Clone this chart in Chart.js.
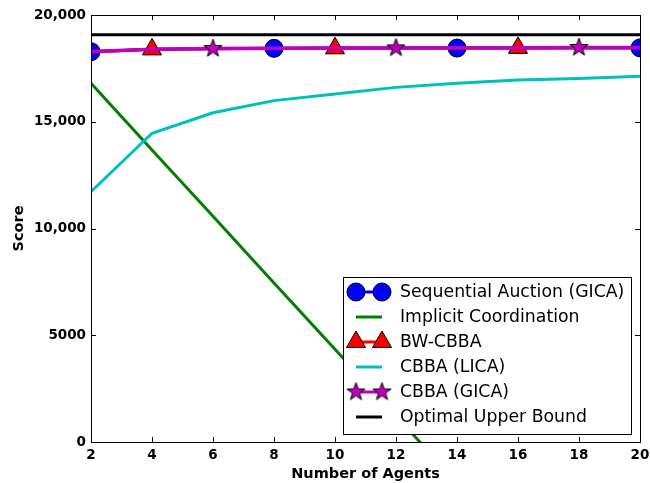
<!DOCTYPE html>
<html>
<head>
<meta charset="utf-8">
<script src="https://cdn.jsdelivr.net/npm/chart.js@4"></script>
<style>
  html, body { margin: 0; padding: 0; background: #fff; }
  #wrap { width: 650px; height: 483px; }
</style>
</head>
<body>
<div id="wrap"><canvas id="c" width="650" height="483"></canvas></div>
<script>
// x values: number of agents
const agents = [2, 4, 6, 8, 10, 12, 14, 16, 18, 20];

// series (score)
const seqAuction = [18280, 18390, 18420, 18440, 18450, 18450, 18450, 18460, 18460, 18460];
const implicitCoord = [16800, 13680, 10570, 7450, 4340, 1220, -1900, -5010, -8130, -11240];
const bwCbba = [18270, 18390, 18420, 18430, 18440, 18450, 18460, 18460, 18470, 18470];
const cbbaLica = [11720, 14460, 15420, 15990, 16300, 16610, 16800, 16960, 17030, 17130];
const cbbaGica = [18290, 18400, 18430, 18440, 18450, 18460, 18470, 18470, 18480, 18480];
const optimalBound = [19080, 19080, 19080, 19080, 19080, 19080, 19080, 19080, 19080, 19080];

const xTicks = [2, 4, 6, 8, 10, 12, 14, 16, 18, 20];
const yTicks = [0, 5000, 10000, 15000, 20000];
const yTickLabels = ['0', '5000', '10,000', '15,000', '20,000'];

const FONT = 'DejaVu Sans';

// filled five point star used as a marker (chart.js 'star' is only an asterisk)
function makeStar(r, fill) {
    const size = Math.ceil(r * 2 + 4);
    const cv = document.createElement('canvas');
    cv.width = size; cv.height = size;
    const g = cv.getContext('2d');
    const c = size / 2;
    g.beginPath();
    for (let i = 0; i < 10; i++) {
        const rad = i % 2 === 0 ? r : r * 0.4;
        const a = -Math.PI / 2 + i * Math.PI / 5;
        const px = c + rad * Math.cos(a), py = c + rad * Math.sin(a);
        if (i === 0) g.moveTo(px, py); else g.lineTo(px, py);
    }
    g.closePath();
    g.fillStyle = fill;
    g.fill();
    g.lineWidth = 1;
    g.strokeStyle = '#000';
    g.stroke();
    return cv;
}
const starImg = makeStar(9.5, '#bf00bf');

// markevery = 3 with an offset
function every3(offset, r) {
    return agents.map((_, i) => (i % 3 === offset ? r : 0));
}

const toXY = arr => arr.map((v, i) => ({ x: agents[i], y: v }));

const datasets = [
    { label: 'Sequential Auction (GICA)', data: toXY(seqAuction), borderColor: '#0000ff', backgroundColor: '#0000ff',
      borderWidth: 3, pointStyle: 'circle', pointRadius: every3(0, 9), order: 6, legendMarker: 'circle' },
    { label: 'Implicit Coordination', data: toXY(implicitCoord), borderColor: '#008000', backgroundColor: '#008000',
      borderWidth: 3, pointRadius: 0, order: 5 },
    { label: 'BW-CBBA', data: toXY(bwCbba), borderColor: '#ff0000', backgroundColor: '#ff0000',
      borderWidth: 3, pointStyle: 'triangle', pointRadius: every3(1, 11), order: 4, legendMarker: 'triangle' },
    { label: 'CBBA (LICA)', data: toXY(cbbaLica), borderColor: '#00bfbf', backgroundColor: '#00bfbf',
      borderWidth: 3, pointRadius: 0, order: 3 },
    { label: 'CBBA (GICA)', data: toXY(cbbaGica), borderColor: '#bf00bf', backgroundColor: '#bf00bf',
      borderWidth: 3.5, pointStyle: starImg, pointRadius: every3(2, 9), order: 2, legendMarker: 'star' },
    { label: 'Optimal Upper Bound', data: toXY(optimalBound), borderColor: '#000000', backgroundColor: '#000000',
      borderWidth: 3, pointRadius: 0, order: 1 }
];
datasets.forEach(d => {
    d.pointBorderColor = '#000';
    d.pointBorderWidth = 1;
    d.pointHoverRadius = d.pointRadius;
    d.tension = 0;
    d.fill = false;
});

// frame + inward ticks on all four sides, matplotlib style
const framePlugin = {
    id: 'frame',
    afterDatasetsDraw(chart) {
        const { ctx, chartArea: a, scales } = chart;
        ctx.save();
        ctx.strokeStyle = '#000';
        ctx.lineWidth = 1;
        ctx.beginPath();
        xTicks.forEach(t => {
            const px = Math.round(scales.x.getPixelForValue(t)) + 0.5;
            ctx.moveTo(px, a.bottom); ctx.lineTo(px, a.bottom - 5);
            ctx.moveTo(px, a.top); ctx.lineTo(px, a.top + 5);
        });
        yTicks.forEach(t => {
            const py = Math.round(scales.y.getPixelForValue(t)) + 0.5;
            ctx.moveTo(a.left, py); ctx.lineTo(a.left + 5, py);
            ctx.moveTo(a.right, py); ctx.lineTo(a.right - 5, py);
        });
        ctx.stroke();
        ctx.strokeRect(Math.round(a.left) + 0.5, Math.round(a.top) + 0.5,
            Math.round(a.right - a.left), Math.round(a.bottom - a.top));
        ctx.restore();
    }
};

function drawMarker(ctx, kind, x, y, ds) {
    if (kind === 'star') {
        ctx.drawImage(starImg, x - starImg.width / 2, y - starImg.height / 2);
        return;
    }
    ctx.beginPath();
    if (kind === 'circle') {
        ctx.arc(x, y, 9, 0, Math.PI * 2);
    } else {
        const r = 11;
        ctx.moveTo(x, y - r);
        ctx.lineTo(x + r * Math.sin(2 * Math.PI / 3), y - r * Math.cos(2 * Math.PI / 3));
        ctx.lineTo(x + r * Math.sin(4 * Math.PI / 3), y - r * Math.cos(4 * Math.PI / 3));
        ctx.closePath();
    }
    ctx.fillStyle = ds.backgroundColor;
    ctx.fill();
    ctx.lineWidth = 1;
    ctx.strokeStyle = '#000';
    ctx.stroke();
}

const legendPlugin = {
    id: 'boxLegend',
    afterDraw(chart) {
        const ctx = chart.ctx;
        const box = { left: 343.5, top: 277.5, right: 631.5, bottom: 434.5 };
        ctx.save();
        ctx.fillStyle = '#fff';
        ctx.fillRect(box.left, box.top, box.right - box.left, box.bottom - box.top);
        ctx.strokeStyle = '#000';
        ctx.lineWidth = 1;
        ctx.strokeRect(box.left, box.top, box.right - box.left, box.bottom - box.top);
        ctx.font = '17.3px "' + FONT + '"';
        ctx.textBaseline = 'middle';
        const x0 = 356, x1 = 382, tx = 400;
        chart.data.datasets.forEach((ds, i) => {
            const y = 292 + i * 25;
            ctx.beginPath();
            ctx.moveTo(x0, y); ctx.lineTo(x1, y);
            ctx.strokeStyle = ds.borderColor;
            ctx.lineWidth = 3;
            ctx.stroke();
            if (ds.legendMarker) {
                drawMarker(ctx, ds.legendMarker, x0, y, ds);
                drawMarker(ctx, ds.legendMarker, x1, y, ds);
            }
            ctx.fillStyle = '#000';
            ctx.fillText(ds.label, tx, y + 1);
        });
        ctx.restore();
    }
};

new Chart(document.getElementById('c'), {
    type: 'line',
    data: { datasets },
    options: {
        responsive: false,
        animation: false,
        events: [],
        layout: { padding: { left: 0, right: 10, top: 15, bottom: 0 } },
        plugins: { legend: { display: false }, tooltip: { enabled: false } },
        scales: {
            x: {
                type: 'linear', min: 2, max: 20,
                afterBuildTicks: s => { s.ticks = xTicks.map(v => ({ value: v })); },
                afterFit: s => { s.height = 41; s.paddingLeft = 0; s.paddingRight = 0; },
                grid: { display: false, drawTicks: false },
                border: { display: false },
                ticks: { color: '#000', padding: 5, maxRotation: 0, font: { family: FONT, size: 13.5, weight: 'bold' } },
                title: { display: true, text: 'Number of Agents', color: '#000', padding: { top: 4, bottom: 0 },
                         font: { family: FONT, size: 14.5, weight: 'bold' } }
            },
            y: {
                type: 'linear', min: 0, max: 20000,
                afterBuildTicks: s => { s.ticks = yTicks.map(v => ({ value: v })); },
                afterFit: s => { s.width = 91; },
                grid: { display: false, drawTicks: false },
                border: { display: false },
                ticks: { color: '#000', padding: 5, font: { family: FONT, size: 13.5, weight: 'bold' },
                         callback: v => yTickLabels[yTicks.indexOf(v)] },
                title: { display: true, text: 'Score', color: '#000', padding: { top: 11, bottom: 0 },
                         font: { family: FONT, size: 14.5, weight: 'bold' } }
            }
        }
    },
    plugins: [framePlugin, legendPlugin]
});
</script>
</body>
</html>
